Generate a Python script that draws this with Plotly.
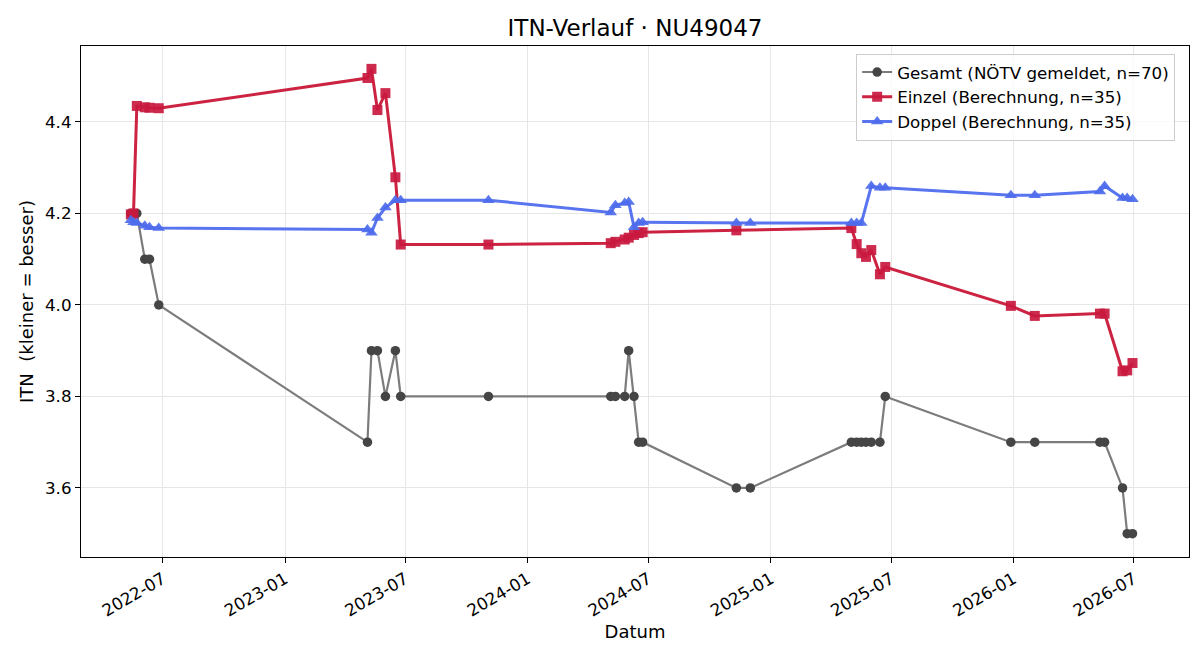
import plotly.graph_objects as go

# --- Data ---
gesamt_dates = ["2022-05-14", "2022-05-18", "2022-05-23", "2022-06-04", "2022-06-11", "2022-06-25",
                "2023-05-05", "2023-05-11", "2023-05-20", "2023-06-01", "2023-06-16", "2023-06-24",
                "2023-11-03",
                "2024-05-05", "2024-05-12", "2024-05-26", "2024-06-01", "2024-06-09", "2024-06-16", "2024-06-22",
                "2024-11-10", "2024-12-01",
                "2025-05-02", "2025-05-10", "2025-05-17", "2025-05-24", "2025-06-01", "2025-06-14", "2025-06-22",
                "2025-12-28", "2026-02-02", "2026-05-11", "2026-05-18", "2026-06-14", "2026-06-21", "2026-06-29"]
gesamt_vals = [4.2, 4.2, 4.2, 4.1, 4.1, 4.0,
               3.7, 3.9, 3.9, 3.8, 3.9, 3.8,
               3.8,
               3.8, 3.8, 3.8, 3.9, 3.8, 3.7, 3.7,
               3.6, 3.6,
               3.7, 3.7, 3.7, 3.7, 3.7, 3.7, 3.8,
               3.7, 3.7, 3.7, 3.7, 3.6, 3.5, 3.5]

einzel_dates = ["2022-05-14", "2022-05-18", "2022-05-23", "2022-06-04", "2022-06-11", "2022-06-25",
                "2023-05-05", "2023-05-11", "2023-05-20", "2023-06-01", "2023-06-16", "2023-06-24",
                "2023-11-03",
                "2024-05-05", "2024-05-12", "2024-05-26", "2024-06-01", "2024-06-09", "2024-06-16", "2024-06-22",
                "2024-11-10",
                "2025-05-02", "2025-05-10", "2025-05-17", "2025-05-24", "2025-06-01", "2025-06-14", "2025-06-22",
                "2025-12-28", "2026-02-02", "2026-05-11", "2026-05-18", "2026-06-14", "2026-06-21", "2026-06-29"]
einzel_vals = [4.198, 4.200, 4.435, 4.432, 4.431, 4.430,
               4.496, 4.516, 4.426, 4.463, 4.279, 4.132,
               4.132,
               4.135, 4.138, 4.143, 4.147, 4.153, 4.157, 4.159,
               4.163,
               4.168, 4.133, 4.113, 4.105, 4.120, 4.067, 4.083,
               3.998, 3.976, 3.981, 3.981, 3.855, 3.857, 3.873]

doppel_dates = ["2022-05-14", "2022-05-18", "2022-05-23", "2022-06-04", "2022-06-11", "2022-06-25",
                "2023-05-05", "2023-05-11", "2023-05-20", "2023-06-01", "2023-06-16", "2023-06-24",
                "2023-11-03",
                "2024-05-05", "2024-05-12", "2024-05-26", "2024-06-01", "2024-06-09", "2024-06-16", "2024-06-22",
                "2024-11-10", "2024-12-01",
                "2025-05-02", "2025-05-10", "2025-05-17", "2025-06-01", "2025-06-14", "2025-06-22",
                "2025-12-28", "2026-02-02", "2026-05-11", "2026-05-18", "2026-06-14", "2026-06-21", "2026-06-29"]
doppel_vals = [4.185, 4.181, 4.179, 4.173, 4.170, 4.168,
               4.165, 4.158, 4.190, 4.213, 4.229, 4.229,
               4.229,
               4.202, 4.218, 4.223, 4.225, 4.170, 4.179, 4.181,
               4.179, 4.179,
               4.179, 4.179, 4.179, 4.260, 4.256, 4.256,
               4.240, 4.240, 4.248, 4.260, 4.234, 4.234, 4.231]

names = ["Gesamt (NÖTV gemeldet, n=70)", "Einzel (Berechnung, n=35)", "Doppel (Berechnung, n=35)"]

FONT = "DejaVu Sans"
FS = 16.7

fig = go.Figure()
fig.add_trace(go.Scatter(
    x=gesamt_dates, y=gesamt_vals, mode="lines+markers", name=names[0], legendgroup="g",
    line=dict(color="#7c7c7c", width=2.2),
    marker=dict(symbol="circle", size=9.5, color="#454545"),
))
fig.add_trace(go.Scatter(
    x=einzel_dates, y=einzel_vals, mode="lines+markers", name=names[1], legendgroup="e",
    line=dict(color="#cc2342", width=3),
    marker=dict(symbol="square", size=10, color="#c9193f", opacity=0.92),
))
fig.add_trace(go.Scatter(
    x=doppel_dates, y=doppel_vals, mode="lines+markers", name=names[2], legendgroup="d",
    line=dict(color="#5874ee", width=3),
    marker=dict(symbol="triangle-up", size=11, color="#4d6bec", opacity=0.92),
))

fig.update_layout(
    width=1200, height=660,
    margin=dict(l=81, r=11, t=46, b=103),
    paper_bgcolor="white", plot_bgcolor="white",
    font=dict(family=FONT, size=FS, color="black"),
    title=dict(text="ITN-Verlauf · NU49047", xref="paper", x=0.5, xanchor="center",
               yref="container", y=0.957, yanchor="middle",
               font=dict(family=FONT, size=23)),
    showlegend=True,
    legend=dict(x=0.9875, y=0.985, xanchor="right", yanchor="top",
                bgcolor="rgba(255,255,255,0.8)", bordercolor="#cccccc", borderwidth=1,
                font=dict(family=FONT, size=FS), tracegroupgap=3, traceorder="normal"),
)

fig.update_xaxes(
    range=["2022-02-28", "2026-09-22"],
    type="date", tick0="2022-01-01", dtick="M6", tickformat="%Y-%m",
    tickangle=-30, ticks="outside", ticklen=5, tickcolor="black",
    showline=True, linecolor="black", linewidth=1.2, mirror=True,
    showgrid=True, gridcolor="#e6e6e6", gridwidth=1, zeroline=False,
    title=dict(text="Datum", font=dict(family=FONT, size=18), standoff=6),
    tickfont=dict(family=FONT, size=FS),
)
fig.update_yaxes(
    range=[3.449, 4.566],
    tickvals=[3.6, 3.8, 4.0, 4.2, 4.4], tickformat=".1f",
    ticks="outside", ticklen=5, tickcolor="black",
    showline=True, linecolor="black", linewidth=1.2, mirror=True,
    showgrid=True, gridcolor="#e6e6e6", gridwidth=1, zeroline=False,
    title=dict(text="ITN  (kleiner = besser)", font=dict(family=FONT, size=18), standoff=6),
    tickfont=dict(family=FONT, size=FS),
)

fig.write_html("out.html")
